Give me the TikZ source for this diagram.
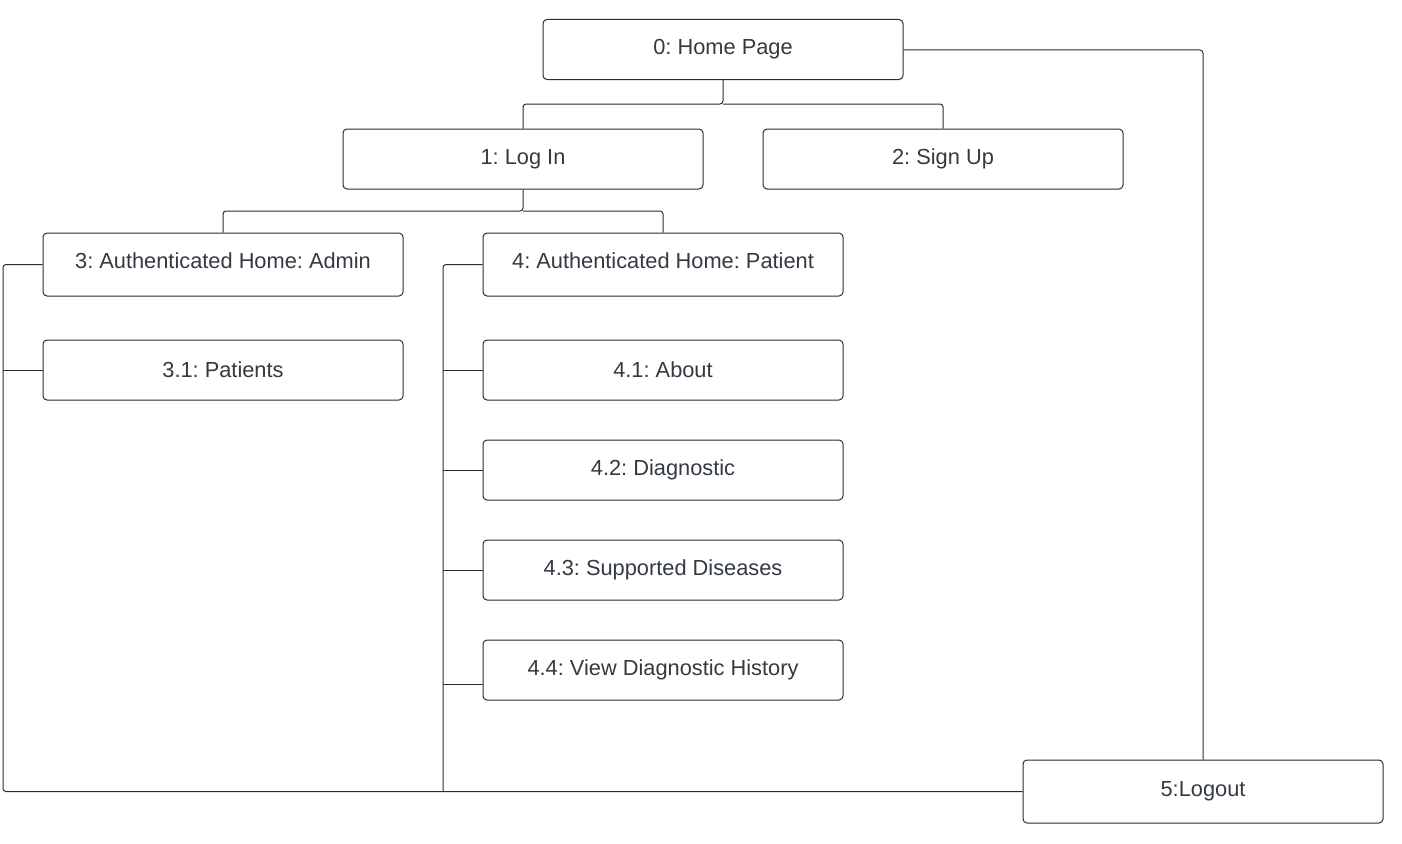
\documentclass[tikz,border=0pt]{standalone}
\usepackage{fontspec}
\setmainfont{Liberation Sans}
\definecolor{txtc}{RGB}{52,58,66}
\definecolor{linec}{RGB}{40,44,52}
\begin{document}
\begin{tikzpicture}[x=1pt,y=-1pt,
  box/.style={draw=linec, line width=1pt, rounded corners=4pt, fill=white,
    minimum width=360pt, minimum height=60pt, inner sep=0pt,
    text=txtc, font=\fontsize{21.8}{26}\selectfont\frenchspacing},
  conn/.style={draw=linec, line width=1pt, rounded corners=3pt}]
\useasboundingbox (0,0) rectangle (1402,843);
\node[box] (home) at (723,49.5) {0: Home Page};
\node[box] (login) at (523,159) {1: Log In};
\node[box] (signup) at (943,159) {2: Sign Up};
\node[box, minimum height=63pt, text depth=7pt] (admin) at (223,264.5) {3: Authenticated Home: Admin};
\node[box, minimum height=63pt, text depth=7pt] (patient) at (663,264.5) {4: Authenticated Home: Patient};
\node[box] (p31) at (223,370) {3.1: Patients};
\node[box] (p41) at (663,370) {4.1: About};
\node[box] (p42) at (663,470) {4.2: Diagnostic};
\node[box] (p43) at (663,570) {4.3: Supported Diseases};
\node[box] (p44) at (663,670) {4.4: View Diagnostic History};
\node[box, minimum height=63pt] (logout) at (1203,791.5) {5:Logout};
\coordinate (trunkA) at (3,791.5);
\coordinate (trunkB) at (443,791.5);
\coordinate (splitH) at (723,104);
\coordinate (splitL) at (523,211);
\coordinate (cornerR) at (1203,50);
% tree from home
\draw[conn] (home.south) -- (splitH) -| (login.north);
\draw[conn] (splitH) -| (signup.north);
\draw[conn] (login.south) -- (splitL) -| (admin.north);
\draw[conn] (splitL) -| (patient.north);
% home to logout
\draw[conn] (home.east |- cornerR) -- (cornerR) -- (logout.north);
% admin trunk
\draw[conn] (admin.west) -| (trunkA) -- (logout.west);
\draw[conn] (p31.west) -- (p31.west -| trunkA);
% patient trunk
\draw[conn] (patient.west) -| (trunkB);
\draw[conn] (p41.west) -- (p41.west -| trunkB);
\draw[conn] (p42.west) -- (p42.west -| trunkB);
\draw[conn] (p43.west) -- (p43.west -| trunkB);
\draw[conn] ([yshift=-14pt]p44.west) -- ([yshift=-14pt]p44.west -| trunkB);
\end{tikzpicture}
\end{document}
